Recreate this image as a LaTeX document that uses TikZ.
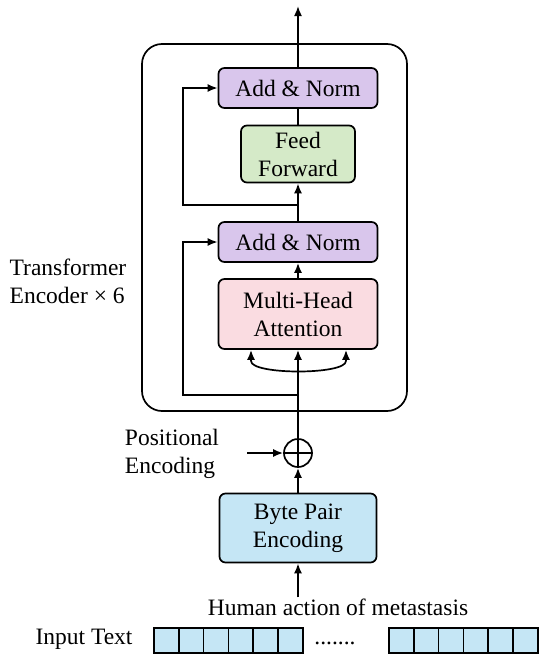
\documentclass[tikz,border=0pt]{standalone}
\usepackage{fontspec}
\setmainfont{Liberation Serif}
\usetikzlibrary{arrows.meta}

\definecolor{normpurple}{HTML}{D9C6EC}
\definecolor{ffgreen}{HTML}{D5EAC8}
\definecolor{attpink}{HTML}{FADCE1}
\definecolor{bpeblue}{HTML}{C5E6F5}

\begin{document}
\begin{tikzpicture}[x=1pt, y=1pt,
         arrow/.style={-{Latex[length=10pt,width=8pt]},line width=1.7pt},
         wire/.style={line width=1.7pt},
         block/.style={draw,line width=1.7pt,rounded corners=6pt,align=center,inner sep=0pt},
         addnorm/.style={block,fill=normpurple,minimum width=159pt,minimum height=40pt},
         cell/.style={draw,line width=1.7pt,fill=bpeblue,minimum width=24.8pt,minimum height=25pt,inner sep=0pt},
         every node/.style={font=\fontsize{23.5}{28}\selectfont}
      ]
   \useasboundingbox (0,0) rectangle (550,-662);

   % encoder stack
   \draw[wire, rounded corners=20pt] (142,-44) rectangle (407,-411);
   \node[addnorm] (norm2) at (298,-88) {Add \& Norm};
   \node[block,fill=ffgreen,minimum width=114pt,minimum height=57pt] (ff) at (298,-154) {Feed\\Forward};
   \node[addnorm] (norm1) at (298,-242) {Add \& Norm};
   \node[block,fill=attpink,minimum width=159pt,minimum height=70pt] (mha) at (298,-314) {Multi-Head\\Attention};

   \node[align=left] (stackL) at (68,-281) {Transformer\\Encoder × 6};

   % input side
   \node[circle,draw,line width=1.7pt,minimum size=28pt,inner sep=0pt] (plus) at (298,-453) {};
   \draw[wire] (plus.north) -- (plus.south);
   \draw[wire] (plus.west) -- (plus.east);
   \node[align=left] (posL) at (172,-454) {Positional\\Encoding};
   \node[block,fill=bpeblue,minimum width=157pt,minimum height=69pt] (bpe) at (298,-528) {Byte Pair\\Encoding};
   \node[inner sep=1pt] (human) at (338,-607) {Human action of metastasis};
   \node (inputL) at (84,-639) {Input Text};

   \foreach \i in {1,...,6} {
      \node[cell] (c\i) at ({154+24.8*(\i-0.5)},-640.5) {};
      \node[cell] (d\i) at ({389+24.8*(\i-0.5)},-640.5) {};
   }
   \node (dots) at (335,-643) {.......};

   \coordinate (out) at (298,-6);
   \coordinate (s1) at (298,-395);
   \coordinate (s2) at (298,-205);
   \coordinate (qin) at (251,-361);
   \coordinate (kin) at (346,-361);
   \coordinate (pe) at (247,-453);

   \begin{scope}[arrow]
      \draw (norm2.north) -- (out);
      \draw (norm1.north) -- (ff.south);
      \draw (mha.north) -- (norm1.south);
      \draw (plus.north) -- (mha.south);
      \draw (s1) -- ++(-115,0) |- (norm1.west);
      \draw (s2) -- ++(-115,0) |- (norm2.west);
      \draw (qin) -- (mha.south -| qin);
      \draw (kin) -- (mha.south -| kin);
      \draw (pe) -- (plus.west);
      \draw (bpe.north) -- (plus.south);
      \draw (bpe.south |- human.north) -- (bpe.south);
   \end{scope}
   \draw[wire] (ff.north) -- (norm2.south);
   \draw[wire] (qin) .. controls (251,-375) and (346,-375) .. (kin);
\end{tikzpicture}
\end{document}
